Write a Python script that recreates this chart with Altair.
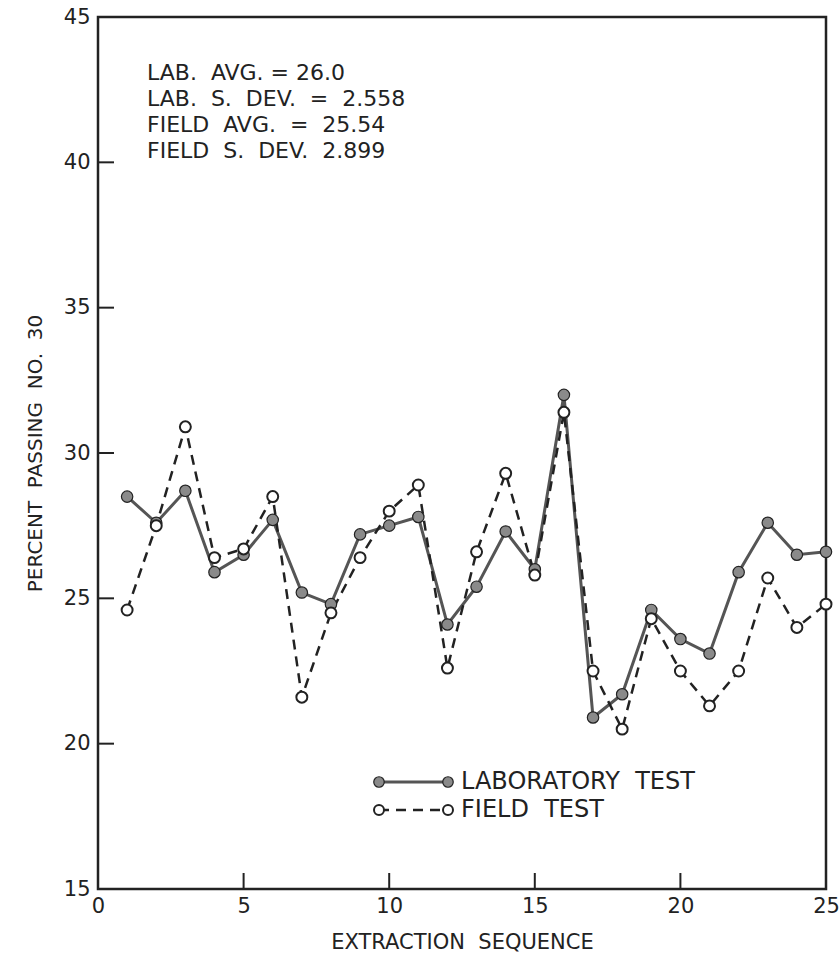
import altair as alt
import pandas as pd

NB = "\u00a0"
seq = list(range(1, 26))
lab = [28.5, 27.6, 28.7, 25.9, 26.5, 27.7, 25.2, 24.8, 27.2, 27.5, 27.8, 24.1, 25.4,
       27.3, 26.0, 32.0, 20.9, 21.7, 24.6, 23.6, 23.1, 25.9, 27.6, 26.5, 26.6]
field = [24.6, 27.5, 30.9, 26.4, 26.7, 28.5, 21.6, 24.5, 26.4, 28.0, 28.9, 22.6, 26.6,
         29.3, 25.8, 31.4, 22.5, 20.5, 24.3, 22.5, 21.3, 22.5, 25.7, 24.0, 24.8]
x_ticks = [5, 10, 15, 20]
y_ticks = [20, 25, 30, 35, 40]
stats_lines = ["LAB.  AVG. = 26.0", "LAB.  S.  DEV.  =  2.558", "FIELD  AVG.  =  25.54", "FIELD  S.  DEV.  2.899"]
legend_labels = ["LABORATORY  TEST", "FIELD  TEST"]
x_title = "EXTRACTION  SEQUENCE"
y_title = "PERCENT  PASSING  NO.  30"


def nb(s):
    return s.replace("  ", NB + " ")


W, H = 728, 872
FONT = "DejaVu Sans"
INK = "#222222"

df_lab = pd.DataFrame({"seq": seq, "val": lab})
df_field = pd.DataFrame({"seq": seq, "val": field})

xs = alt.Scale(domain=[0, 25], nice=False, zero=False)
ys = alt.Scale(domain=[15, 45], nice=False, zero=False)

x_enc = alt.X("seq:Q", scale=xs, axis=alt.Axis(
    values=[0, 5, 10, 15, 20, 25], ticks=False, grid=False, domain=False,
    title=nb(x_title), titleFontSize=21, titleFont=FONT, titleFontWeight="normal",
    titleColor=INK, titlePadding=15, labelFontSize=21, labelFont=FONT, labelColor=INK,
    labelPadding=6, labelFlush=False))
y_enc = alt.Y("val:Q", scale=ys, axis=alt.Axis(
    values=[15, 20, 25, 30, 35, 40, 45], ticks=False, grid=False, domain=False,
    title=nb(y_title), titleFontSize=20, titleFont=FONT, titleFontWeight="normal",
    titleColor=INK, titlePadding=18, labelFontSize=21, labelFont=FONT, labelColor=INK,
    labelPadding=8))

lab_line = alt.Chart(df_lab).mark_line(color="#555555", strokeWidth=3).encode(x=x_enc, y=y_enc)
lab_pts = alt.Chart(df_lab).mark_point(filled=True, fill="#8a8a8a", stroke=INK, strokeWidth=1.2,
                                        opacity=1, size=130, shape="circle").encode(
    x=alt.X("seq:Q", scale=xs), y=alt.Y("val:Q", scale=ys))
field_line = alt.Chart(df_field).mark_line(color=INK, strokeWidth=2.5, strokeDash=[10, 7]).encode(
    x=alt.X("seq:Q", scale=xs), y=alt.Y("val:Q", scale=ys))
field_pts = alt.Chart(df_field).mark_point(filled=True, fill="white", stroke=INK, strokeWidth=2,
                                            opacity=1, size=120, shape="circle").encode(
    x=alt.X("seq:Q", scale=xs), y=alt.Y("val:Q", scale=ys))

xt = alt.Chart(pd.DataFrame({"t": x_ticks})).mark_rule(color=INK, strokeWidth=2).encode(
    x=alt.X("t:Q", scale=xs), y=alt.value(H), y2=alt.value(H - 16))
yt = alt.Chart(pd.DataFrame({"t": y_ticks})).mark_rule(color=INK, strokeWidth=2).encode(
    y=alt.Y("t:Q", scale=ys), x=alt.value(0), x2=alt.value(16))

stats = alt.Chart(pd.DataFrame({"txt": ["\n".join(nb(s) for s in stats_lines)]})).mark_text(
    align="left", baseline="top", font=FONT, fontSize=22, lineBreak="\n", lineHeight=26,
    color=INK).encode(x=alt.value(49), y=alt.value(46), text="txt:N")

# legend
leg_y = [765, 793]
leg_lab_rule = alt.Chart(pd.DataFrame({"k": [0]})).mark_rule(color="#555555", strokeWidth=3).encode(
    x=alt.value(281), x2=alt.value(350), y=alt.value(leg_y[0]))
leg_field_rule = alt.Chart(pd.DataFrame({"k": [0]})).mark_rule(color=INK, strokeWidth=2.5, strokeDash=[10, 7]).encode(
    x=alt.value(281), x2=alt.value(350), y=alt.value(leg_y[1]))
leg_lab_pts = alt.Chart(pd.DataFrame({"px": [281, 350]})).mark_point(
    filled=True, fill="#8a8a8a", stroke=INK, strokeWidth=1.2, opacity=1, size=110, shape="circle").encode(
    x=alt.X("px:Q", scale=None), y=alt.value(leg_y[0]))
leg_field_pts = alt.Chart(pd.DataFrame({"px": [281, 350]})).mark_point(
    filled=True, fill="white", stroke=INK, strokeWidth=2, opacity=1, size=100, shape="circle").encode(
    x=alt.X("px:Q", scale=None), y=alt.value(leg_y[1]))
leg_text = alt.Chart(pd.DataFrame({"txt": [nb(s) for s in legend_labels], "py": leg_y})).mark_text(
    align="left", baseline="middle", font=FONT, fontSize=24, color=INK).encode(
    x=alt.value(363), y=alt.Y("py:Q", scale=None), text="txt:N")

chart = alt.layer(
    lab_line, field_line, lab_pts, field_pts, xt, yt, stats,
    leg_lab_rule, leg_field_rule, leg_lab_pts, leg_field_pts, leg_text
).properties(
    width=W, height=H,
    autosize=alt.AutoSizeParams(type="none"),
    padding={"left": 98, "top": 17, "right": 14, "bottom": 72},
    background="white",
).configure_view(stroke=INK, strokeWidth=2.5)

chart.save("out.html", embed_options={"renderer": "svg", "actions": False})
